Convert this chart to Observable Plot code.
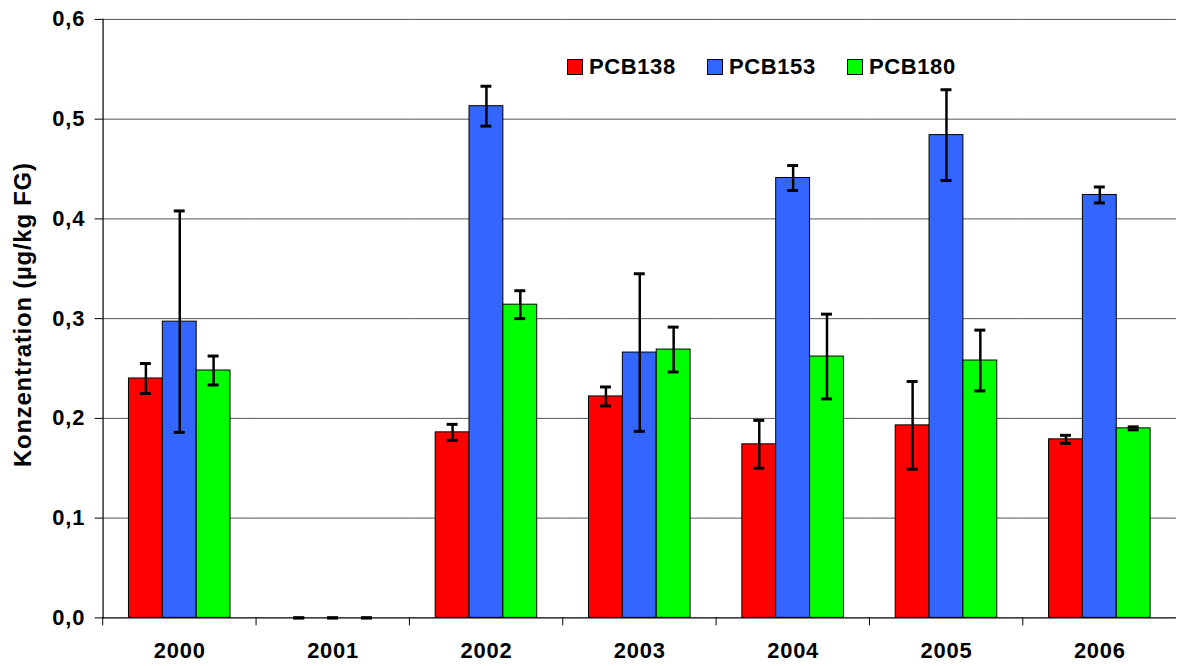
<!DOCTYPE html>
<html>
<head>
<meta charset="utf-8">
<script src="https://cdn.jsdelivr.net/npm/d3@7"></script>
<script src="https://cdn.jsdelivr.net/npm/@observablehq/plot@0.6"></script>
<style>
  html, body { margin: 0; padding: 0; background: #fff; overflow: hidden; }
  #wrap { position: relative; width: 1178px; height: 666px; overflow: hidden; font-family: "Liberation Sans", Arial, sans-serif; }
  .leg { position: absolute; top: 54px; display: flex; align-items: center; font-weight: bold; font-size: 22px; letter-spacing: 0.6px; color: #000; }
  .sw { width: 14px; height: 14px; border: 1px solid #000; margin-right: 6px; }
</style>
</head>
<body>
<div id="wrap"></div>
<script>
const years = ["2000", "2001", "2002", "2003", "2004", "2005", "2006"];
const series = ["PCB138", "PCB153", "PCB180"];
const colors = ["#FF0000", "#3366FF", "#00FF00"];
const pcb138 = [0.240, 0, 0.186, 0.222, 0.174, 0.193, 0.179];
const pcb153 = [0.297, 0, 0.513, 0.266, 0.441, 0.484, 0.424];
const pcb180 = [0.248, 0, 0.314, 0.269, 0.262, 0.258, 0.190];
const err138 = [0.015, 0, 0.008, 0.0095, 0.024, 0.044, 0.004];
const err153 = [0.111, 0, 0.020, 0.079, 0.0125, 0.0455, 0.008];
const err180 = [0.0145, 0, 0.014, 0.0225, 0.0425, 0.0305, 0.0015];
const yTicks = [0, 0.1, 0.2, 0.3, 0.4, 0.5, 0.6];
const yLabel = "Konzentration (µg/kg FG)";

const values = [pcb138, pcb153, pcb180];
const errs = [err138, err153, err180];
const data = [];
years.forEach((yr, i) => series.forEach((s, j) => {
  data.push({year: yr, series: s, value: values[j][i], err: errs[j][i]});
}));

const W = 1183;
const step = (W - 100) / years.length;

const plot = Plot.plot({
  width: W,
  height: 666,
  marginLeft: 100,
  marginRight: 0,
  marginTop: 19,
  marginBottom: 46,
  style: {fontFamily: "Liberation Sans, Arial, sans-serif", fontWeight: "bold", fontSize: "22px", letterSpacing: "0.8px", color: "#000", background: "#fff"},
  fx: {domain: years, padding: 0, label: null},
  x: {domain: series, paddingInner: 0, paddingOuter: 0.72, axis: null},
  y: {domain: [0, 0.6], label: null},
  color: {domain: series, range: colors},
  marks: [
    Plot.ruleY(yTicks.slice(1), {stroke: "#555", strokeWidth: 1}),
    Plot.axisY({ticks: yTicks, tickSize: 8, tickPadding: 10, fontSize: 22, fontWeight: "bold", tickFormat: d => d3.format(".1f")(d).replace(".", ","), label: null, stroke: "#000"}),
    Plot.text([yLabel], {frameAnchor: "left", textAnchor: "middle", rotate: -90, dx: -80, dy: -4, fontSize: 24, fontWeight: "bold", letterSpacing: "0.2px", facetAnchor: "left"}),
    Plot.barY(data.filter(d => d.value > 0), {fx: "year", x: "series", y: "value", fill: "series", stroke: "#000", strokeWidth: 1}),
    Plot.ruleX(data, {fx: "year", x: "series", y1: d => d.value - d.err, y2: d => d.value + d.err, stroke: "#000", strokeWidth: 2.5}),
    Plot.tickY(data, {fx: "year", x: "series", y: d => d.value - d.err, stroke: "#000", strokeWidth: 3, insetLeft: 11.5, insetRight: 11.5}),
    Plot.tickY(data, {fx: "year", x: "series", y: d => d.value + d.err, stroke: "#000", strokeWidth: 3, insetLeft: 11.5, insetRight: 11.5}),
    Plot.ruleY([0], {stroke: "#000", strokeWidth: 1.2}),
    Plot.frame({anchor: "left", stroke: "#000", strokeWidth: 1.2, facetAnchor: "left"}),
    Plot.axisFx({anchor: "bottom", tickSize: 0, tickPadding: 25, fontSize: 22, fontWeight: "bold", label: null}),
    Plot.axisFx({anchor: "bottom", tickSize: 8, dx: -step / 2, tickFormat: () => "", label: null, stroke: "#000"})
  ]
});

const wrap = document.getElementById("wrap");
wrap.appendChild(plot);

const legX = [567, 707, 847];
series.forEach((s, i) => {
  const item = document.createElement("div");
  item.className = "leg";
  item.style.left = legX[i] + "px";
  const sw = document.createElement("div");
  sw.className = "sw";
  sw.style.background = colors[i];
  const t = document.createElement("span");
  t.textContent = s;
  item.appendChild(sw);
  item.appendChild(t);
  wrap.appendChild(item);
});
</script>
</body>
</html>
